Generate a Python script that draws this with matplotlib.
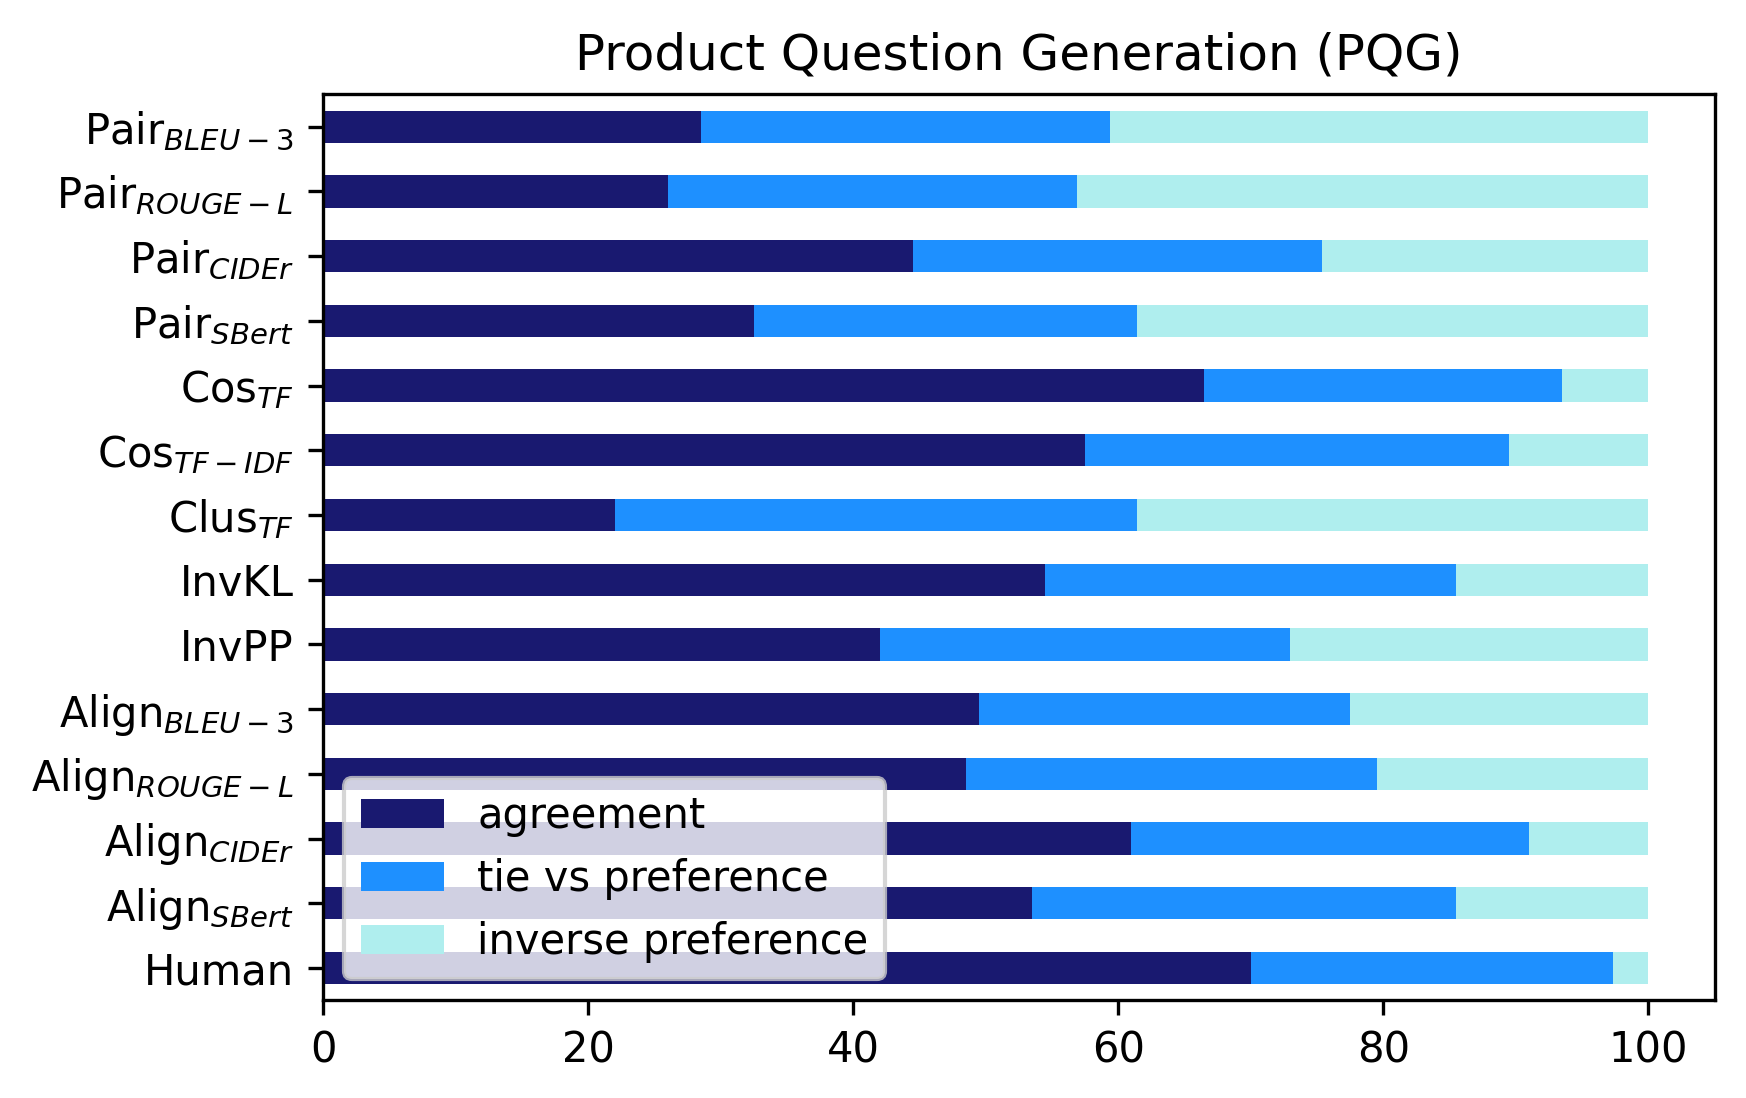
import matplotlib
matplotlib.use("Agg")
import matplotlib.pyplot as plt
import numpy as np

# rows listed bottom to top, as they appear on the y axis
methods = [r'Human', r'Align$_{SBert}$', r'Align$_{CIDEr}$', r'Align$_{ROUGE-L}$',
           r'Align$_{BLEU-3}$', r'InvPP', r'InvKL', r'Clus$_{TF}$',
           r'Cos$_{TF-IDF}$', r'Cos$_{TF}$', r'Pair$_{SBert}$', r'Pair$_{CIDEr}$',
           r'Pair$_{ROUGE-L}$', r'Pair$_{BLEU-3}$']

agreement = [70.0, 53.5, 61.0, 48.5, 49.5, 42.0, 54.5, 22.0, 57.5, 66.5, 32.5, 44.5, 26.0, 28.5]
tie_vs_pref = [27.3, 32.0, 30.0, 31.0, 28.0, 31.0, 31.0, 39.4, 32.0, 27.0, 28.9, 30.9, 30.9, 30.9]
inverse_pref = [2.7, 14.5, 9.0, 20.5, 22.5, 27.0, 14.5, 38.6, 10.5, 6.5, 38.6, 24.6, 43.1, 40.6]

fig, ax = plt.subplots(figsize=(5.82, 3.66), dpi=300)
fig.subplots_adjust(left=0.185, right=0.982, top=0.914, bottom=0.089)

y = np.arange(len(methods))
left2 = np.array(agreement)
left3 = left2 + np.array(tie_vs_pref)

ax.barh(y, agreement, height=0.5, color='midnightblue', label='agreement')
ax.barh(y, tie_vs_pref, height=0.5, left=left2, color='dodgerblue', label='tie vs preference')
ax.barh(y, inverse_pref, height=0.5, left=left3, color='paleturquoise', label='inverse preference')

ax.set_yticks(y)
ax.set_yticklabels(methods)
ax.set_ylim(-0.5, len(methods) - 0.5)
ax.set_xlim(0, 105)
ax.set_title("Product Question Generation (PQG)")
ax.legend(loc='lower left')

fig.savefig("out.png", dpi=300)
